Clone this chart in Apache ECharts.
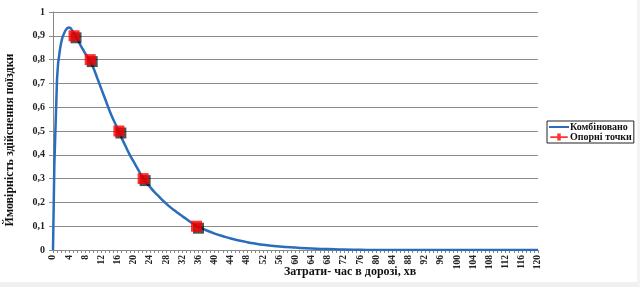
<!DOCTYPE html>
<html><head><meta charset="utf-8">
<script src="https://cdn.jsdelivr.net/npm/echarts@6/dist/echarts.min.js"></script>
<style>html,body{margin:0;padding:0;background:#fff}#c{width:640px;height:287px}</style>
</head><body><div id="c"></div>
<script>
const curveX = [0,1,2,3,4,5,6,7,8,9,10,11,12,13,14,15,16,17,18,19,20,21,22,23,24,25,26,27,28,29,30,31,32,33,34,35,36,38,40,42,44,46,48,50,52,56,60,64,68,72,76,80,90,100,110,120];
const curveY = [0,0.72,0.87,0.92,0.935,0.915,0.885,0.855,0.825,0.8,0.765,0.72,0.675,0.63,0.585,0.545,0.51,0.47,0.435,0.4,0.37,0.34,0.31,0.285,0.265,0.245,0.228,0.211,0.195,0.18,0.167,0.154,0.142,0.13,0.118,0.106,0.097,0.082,0.069,0.058,0.048,0.04,0.033,0.027,0.022,0.015,0.01,0.006,0.004,0.002,0.001,0,0,0,0,0];
const pointX = [5.2,9.2,16.3,22.3,35.5];
const pointY = [0.9,0.8,0.5,0.3,0.1];
const seriesNames = ['Комбіновано','Опорні точки'];
const xName = 'Затрати- час в дорозі, хв';
const yName = 'Ймовірність здійснення поїздки';

const font = '"Liberation Serif", "DejaVu Serif", serif';
const chart = echarts.init(document.getElementById('c'));
chart.setOption({
  animation:false,
  backgroundColor:'#fff',
  grid:{left:53,top:12,width:485,height:238,containLabel:false,outerBoundsMode:'none'},
  xAxis:{
    type:'value',min:0,max:120,interval:4,
    axisLine:{show:true,onZero:false,lineStyle:{color:'#888',width:1}},
    axisTick:{show:true,length:3,lineStyle:{color:'#888'}},
    minorTick:{show:true,splitNumber:4,length:3,lineStyle:{color:'#888'}},
    splitLine:{show:false},
    axisLabel:{rotate:90,fontFamily:font,fontWeight:'bold',fontSize:9.5,color:'#222',margin:5},
  },
  yAxis:{
    type:'value',min:0,max:1,interval:0.1,
    name:yName,nameLocation:'middle',nameGap:37,
    nameTextStyle:{fontFamily:font,fontWeight:'bold',fontSize:12,color:'#111',padding:[0,0,0,-18]},
    axisLine:{show:true,lineStyle:{color:'#888'}},
    axisTick:{show:true,length:4,lineStyle:{color:'#888'}},
    splitLine:{show:true,lineStyle:{color:'#8a8a8a',width:1}},
    axisLabel:{fontFamily:font,fontWeight:'bold',fontSize:10,color:'#222',margin:8,
      formatter:v=>String(Math.round(v*10)/10).replace('.',',')}
  },
  legend:{
    orient:'vertical',left:547,top:121,padding:[1,2,1,2],itemGap:0,
    itemWidth:20,itemHeight:7,
    borderColor:'#222',borderWidth:1,backgroundColor:'#fff',
    textStyle:{fontFamily:font,fontWeight:'bold',fontSize:10,color:'#111',padding:[0,0,0,-4]},
    data:[
      {name:seriesNames[0],icon:'path://M0,3H20V5H0Z',itemStyle:{color:'#2a6ebb'}},
      {name:seriesNames[1],icon:'path://M0,3H8V0H12V3H20V5H12V8H8V5H0Z',itemStyle:{color:'#ff0000'}}
    ]
  },
  graphic:[
    {type:'text',left:284,top:266,style:{text:xName,font:'bold 12px '+font,fill:'#111'}},
    {type:'rect',z:-1,silent:true,shape:{x:0,y:282,width:640,height:5},style:{fill:'#f0f0f0'}},
    {type:'rect',z:-1,silent:true,shape:{x:637,y:0,width:3,height:287},style:{fill:'#f3f3f3'}}
  ],
  series:[
    {name:seriesNames[0],type:'line',smooth:true,showSymbol:false,symbol:'none',
      data:curveX.map((x,i)=>[x,curveY[i]]),
      lineStyle:{color:'#2a6ebb',width:2.5},itemStyle:{color:'#2a6ebb'},z:2},
    {name:seriesNames[1],type:'scatter',symbol:'rect',symbolSize:11,
      data:pointX.map((x,i)=>[x,pointY[i]]),
      itemStyle:{color:'#ff0000',shadowColor:'rgba(0,0,0,0.85)',shadowOffsetX:2,shadowOffsetY:2,shadowBlur:0},z:3}
  ]
});
</script></body></html>
